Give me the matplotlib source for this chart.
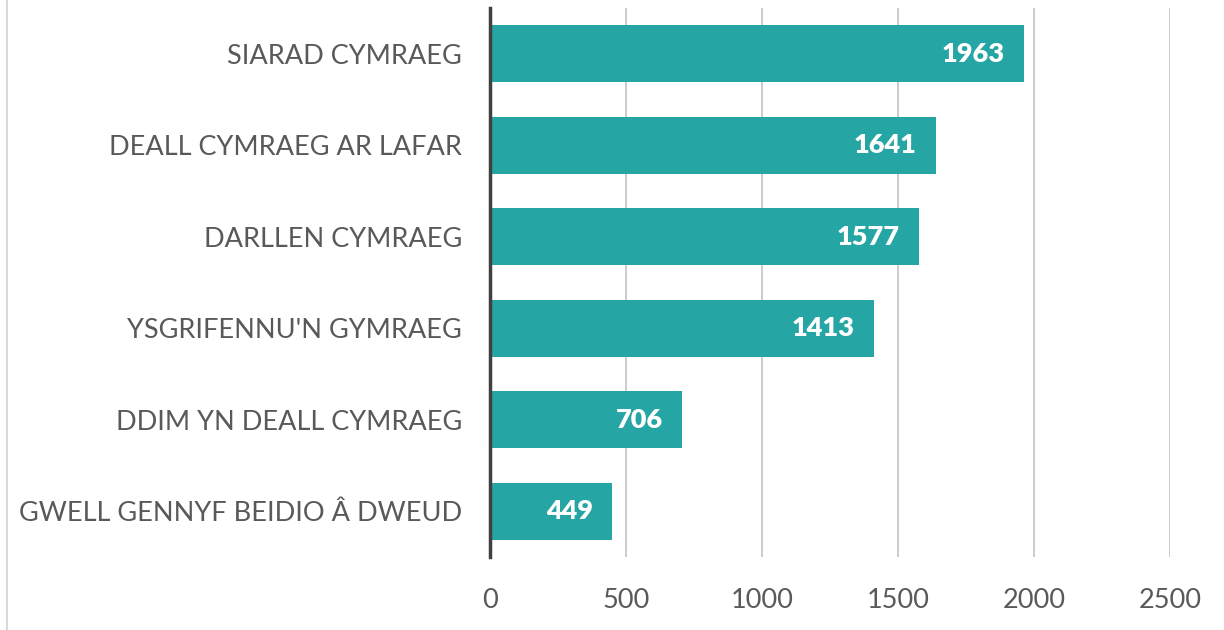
import matplotlib
matplotlib.use("Agg")
import matplotlib.pyplot as plt
from matplotlib.lines import Line2D

categories = ["SIARAD CYMRAEG", "DEALL CYMRAEG AR LAFAR", "DARLLEN CYMRAEG",
              "YSGRIFENNU'N GYMRAEG", "DDIM YN DEALL CYMRAEG", "GWELL GENNYF BEIDIO Â DWEUD"]
values = [1963, 1641, 1577, 1413, 706, 449]
xticks = [0, 500, 1000, 1500, 2000, 2500]

plt.rcParams['font.family'] = ['Lato', 'DejaVu Sans']

fig = plt.figure(figsize=(12.24, 6.3), dpi=100)
ax = fig.add_axes([490/1224, 1-557/630, (1170-490)/1224, (557-8)/630])

ypos = list(range(len(categories)))
bars = ax.barh(ypos, values, height=0.62, color="#26A5A5", zorder=3)
ax.set_ylim(len(categories)-0.5, -0.5)
ax.set_xlim(0, 2500)
ax.set_yticks(ypos)
ax.set_yticklabels(categories, fontsize=19.5, color="#595959")
ax.set_xticks(xticks)
ax.set_xticklabels([str(t) for t in xticks], fontsize=19.5, color="#595959")
ax.tick_params(axis='both', length=0)
ax.tick_params(axis='y', pad=20)
ax.tick_params(axis='x', pad=22)
ax.grid(axis='x', color="#C8C8C8", linewidth=1.3, zorder=0)
for s in ['top', 'right', 'bottom']:
    ax.spines[s].set_visible(False)
ax.spines['left'].set_color("#404040")
ax.spines['left'].set_linewidth(2.5)
ax.spines['left'].set_zorder(4)

for b, v in zip(bars, values):
    ax.annotate(str(v), xy=(v, b.get_y() + b.get_height()/2), xytext=(-14, 0),
                textcoords='offset points', ha='right', va='center',
                color='white', fontsize=19.5, fontweight='heavy', zorder=5)

fig.add_artist(Line2D([7/1224, 7/1224], [0, 1], transform=fig.transFigure,
                      color="#D9D9D9", linewidth=1.5))

fig.savefig("out.png", dpi=100, facecolor="white")
